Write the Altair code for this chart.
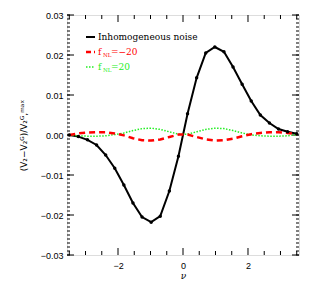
import altair as alt
import pandas as pd

# ---- data ----
nu = [-3.50, -3.22, -2.94, -2.66, -2.38, -2.10, -1.82, -1.54, -1.26, -0.98,
      -0.70, -0.42, -0.14, 0.14, 0.42, 0.70, 0.98, 1.26, 1.54, 1.82,
      2.10, 2.38, 2.66, 2.94, 3.22, 3.50]
inhomog = [0.0000, -0.0004, -0.0012, -0.0025, -0.0050, -0.0083, -0.0125, -0.0170,
           -0.0205, -0.0218, -0.0203, -0.0140, -0.0053, 0.0053, 0.0143, 0.0205,
           0.0220, 0.0208, 0.0170, 0.0127, 0.0085, 0.0050, 0.0030, 0.0015,
           0.0008, 0.0003]
fnl_m20 = [0.0000, 0.0004, 0.0006, 0.0007, 0.0007, 0.0004, -0.0001, -0.0008,
           -0.0013, -0.0014, -0.0011, -0.0005, 0.0001, 0.0001, -0.0005, -0.0011,
           -0.0014, -0.0013, -0.0009, -0.0003, 0.0002, 0.0005, 0.0007, 0.0007,
           0.0005, 0.0002]
fnl_p20 = [0.0000, -0.0002, -0.0003, -0.0003, -0.0002, 0.0001, 0.0005, 0.0011,
           0.0016, 0.0017, 0.0014, 0.0008, 0.0002, 0.0002, 0.0008, 0.0014,
           0.0017, 0.0016, 0.0011, 0.0005, 0.0000, -0.0002, -0.0003, -0.0003,
           -0.0002, 0.0001]

x_labels = [-2, 0, 2]
x_minor = [-3.5, -3.0, -2.5, -1.5, -1.0, -0.5, 0.5, 1.0, 1.5, 2.5, 3.0, 3.5]
y_major = [-0.03, -0.02, -0.01, 0.0, 0.01, 0.02, 0.03]
y_minor = [round(-0.03 + 0.001 * i, 3) for i in range(61)]

W, H = 232, 240
xdom = [-3.57, 3.57]
ydom = [-0.03, 0.03]

df = pd.DataFrame({"nu": nu, "inh": inhomog, "m20": fnl_m20, "p20": fnl_p20})

xs = alt.Scale(domain=xdom, nice=False, zero=False)
ys = alt.Scale(domain=ydom, nice=False, zero=False)

xaxis = alt.Axis(
    values=x_labels, ticks=False, domain=False, grid=False, title="ν",
    labelFont="Liberation Sans", labelFontSize=9, labelColor="black",
    labelPadding=6, titleFont="DejaVu Serif", titleFontSize=9, titleColor="black",
    titleFontStyle="italic", titleFontWeight="normal", titlePadding=1)
yaxis = alt.Axis(values=y_major, format=".2f", ticks=False, domain=False, grid=False,
                 title="(V₂−V₂ᴳ)/V₂ᴳ,ᵐᵃˣ", labelFont="Liberation Sans",
                 labelFontSize=9, labelColor="black", labelPadding=4, titleColor="black",
                 titleFont="DejaVu Sans", titleFontSize=9, titleFontWeight="normal",
                 titlePadding=12)

def X(field):
    return alt.X(field, scale=xs, axis=xaxis)

def Y(field):
    return alt.Y(field, scale=ys, axis=yaxis)

base = alt.Chart(df)

black_line = base.mark_line(color="black", strokeWidth=2).encode(x=X("nu:Q"), y=Y("inh:Q"))
black_pts = base.mark_circle(color="black", size=12, opacity=1).encode(x=X("nu:Q"), y=Y("inh:Q"))
red_line = base.mark_line(color="#ff0000", strokeWidth=2.5, strokeDash=[6, 4]).encode(x=X("nu:Q"), y=Y("m20:Q"))
green_line = base.mark_line(color="#22ee22", strokeWidth=1.5, strokeDash=[1.5, 1.5]).encode(x=X("nu:Q"), y=Y("p20:Q"))

# inward tick marks on all four sides
def xticks(vals, length):
    d = alt.Chart(pd.DataFrame({"nu": vals}))
    bot = d.mark_rule(color="black", strokeWidth=1).encode(x=X("nu:Q"), y=alt.value(H), y2=alt.value(H - length))
    top = d.mark_rule(color="black", strokeWidth=1).encode(x=X("nu:Q"), y=alt.value(0), y2=alt.value(length))
    return bot + top

def yticks(vals, length):
    d = alt.Chart(pd.DataFrame({"inh": vals}))
    left = d.mark_rule(color="black", strokeWidth=1).encode(y=Y("inh:Q"), x=alt.value(0), x2=alt.value(length))
    right = d.mark_rule(color="black", strokeWidth=1).encode(y=Y("inh:Q"), x=alt.value(W), x2=alt.value(W - length))
    return left + right

ticks = xticks(x_labels, 7) + xticks(x_minor, 4) + yticks(y_major, 7) + yticks(y_minor, 3)

# manual legend
leg_df = pd.DataFrame({"k": [0]})
lb = alt.Chart(leg_df)
lx0, lx1, tx = 19, 28, 31
leg = (
    lb.mark_rule(color="black", strokeWidth=2).encode(x=alt.value(lx0), x2=alt.value(lx1), y=alt.value(22))
    + lb.mark_text(text="Inhomogeneous noise", align="left", baseline="middle", font="DejaVu Serif",
                   fontSize=9, color="black").encode(x=alt.value(tx), y=alt.value(22))
    + lb.mark_rule(color="#ff0000", strokeWidth=2.5, strokeDash=[5, 3]).encode(x=alt.value(lx0), x2=alt.value(lx1), y=alt.value(37))
    + lb.mark_text(text="f", align="left", baseline="middle", font="DejaVu Serif",
                   fontSize=9, color="#ff0000").encode(x=alt.value(tx), y=alt.value(37))
    + lb.mark_text(text="NL", align="left", baseline="middle", font="DejaVu Serif",
                   fontSize=5.5, color="#ff0000").encode(x=alt.value(tx + 5), y=alt.value(40))
    + lb.mark_text(text="=−20", align="left", baseline="middle", font="DejaVu Serif",
                   fontSize=9, color="#ff0000").encode(x=alt.value(tx + 13), y=alt.value(37))
    + lb.mark_rule(color="#22ee22", strokeWidth=1.5, strokeDash=[1.5, 1.5]).encode(x=alt.value(lx0), x2=alt.value(lx1), y=alt.value(52))
    + lb.mark_text(text="f", align="left", baseline="middle", font="DejaVu Serif",
                   fontSize=9, color="#22ee22").encode(x=alt.value(tx), y=alt.value(52))
    + lb.mark_text(text="NL", align="left", baseline="middle", font="DejaVu Serif",
                   fontSize=5.5, color="#22ee22").encode(x=alt.value(tx + 5), y=alt.value(55))
    + lb.mark_text(text="=20", align="left", baseline="middle", font="DejaVu Serif",
                   fontSize=9, color="#22ee22").encode(x=alt.value(tx + 13), y=alt.value(52))
)

chart = alt.layer(black_line, ticks, green_line, red_line, black_pts, leg).properties(
    width=W, height=H,
    autosize=alt.AutoSizeParams(type="none"),
    padding={"left": 59, "top": 7, "right": 8, "bottom": 29},
).configure_view(stroke="black", strokeWidth=1.2).configure(background="white")

chart.save("out.html", embed_options={"renderer": "svg", "actions": False})
